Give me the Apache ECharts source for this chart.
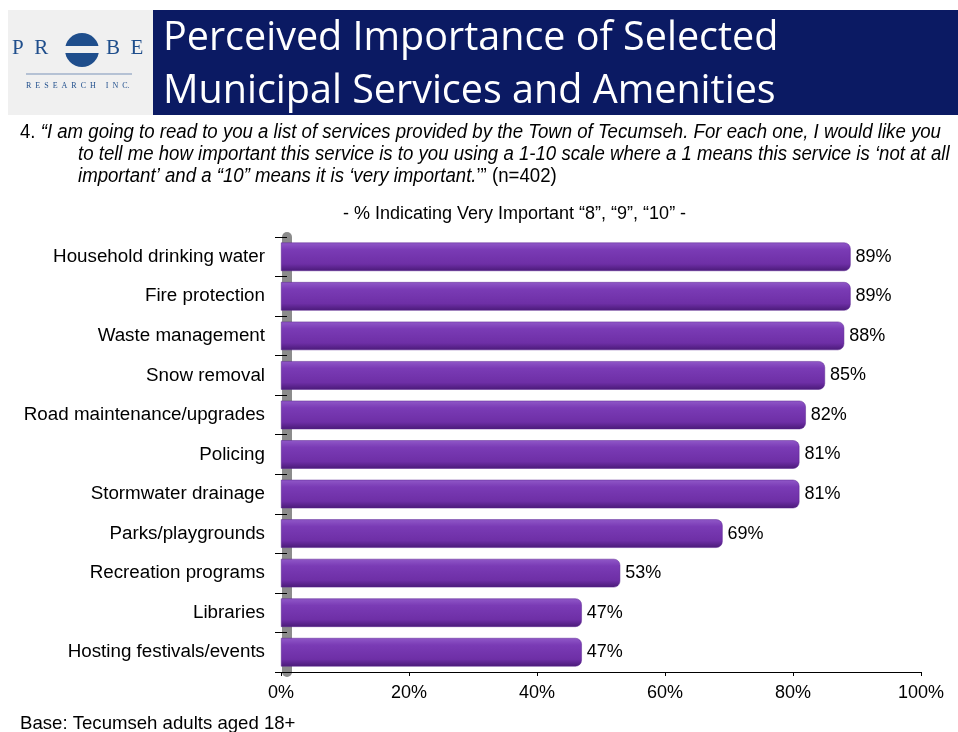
<!DOCTYPE html>
<html><head><meta charset="utf-8">
<script src="https://cdn.jsdelivr.net/npm/echarts@6/dist/echarts.min.js"></script>
<style>html,body{margin:0;padding:0;background:#fff}#c{width:958px;height:732px}</style>
</head><body><div id="c"></div>
<script>
const categories = ["Household drinking water","Fire protection","Waste management","Snow removal","Road maintenance/upgrades","Policing","Stormwater drainage","Parks/playgrounds","Recreation programs","Libraries","Hosting festivals/events"];
const values = [89,89,88,85,82,81,81,69,53,47,47];
const xTicks = [0,20,40,60,80,100];

const chart = echarts.init(document.getElementById('c'), null, {renderer:'canvas'});
const F = 'Liberation Sans, Arial, sans-serif';
const QF = '"Liberation Sans", Arial, sans-serif';
chart.setOption({
  animation:false,
  backgroundColor:'#fff',
  grid:{left:281,right:37,top:237,bottom:60,containLabel:false},
  xAxis:{type:'value',min:0,max:100,interval:20,
    axisLine:{show:true,lineStyle:{color:'#000',width:1}},
    axisTick:{show:true,length:4,lineStyle:{color:'#000'}},
    splitLine:{show:false},
    axisLabel:{formatter:v=>v+'%',color:'#000',fontFamily:F,fontSize:18,margin:12}},
  yAxis:{type:'category',data:categories,inverse:true,offset:-6,
    axisLine:{show:true,lineStyle:{color:'#8c8c8c',width:10}},
    axisTick:{show:true,length:12,lineStyle:{color:'#000'}},
    axisLabel:{color:'#000',fontFamily:F,fontSize:18.8,margin:22}},
  graphic:[
    {type:'rect',shape:{x:8,y:10,width:145,height:105},style:{fill:'#f0f0f0'}},
    {type:'rect',shape:{x:153,y:10,width:805,height:105},style:{fill:'#0b1a63'}},
    {type:'text',left:163,top:12,style:{text:'Perceived Importance of Selected\nMunicipal Services and Amenities',fill:'#fff',font:'39.5px "Open Sans", sans-serif',lineHeight:53}},
    {type:'text',left:12,top:38,style:{text:'P  R',fill:'#1f4e8c',font:'21px "Liberation Serif", serif'}},
    {type:'text',left:106,top:38,style:{text:'B  E',fill:'#1f4e8c',font:'21px "Liberation Serif", serif'}},
    {type:'circle',shape:{cx:82,cy:50,r:17},style:{fill:'#1f4e8c'}},
    {type:'rect',shape:{x:64,y:46,width:36,height:7},style:{fill:'#f0f0f0'}},
    {type:'line',shape:{x1:26,y1:74,x2:132,y2:74},style:{stroke:'#7a93b8',lineWidth:1}},
    {type:'text',left:26,top:82,style:{text:'R  E  S  E  A  R  C  H     I  N  C.',fill:'#1f4e8c',font:'8px "Liberation Serif", serif'}},
    {type:'text',left:20,top:123,scaleX:0.955,style:{rich:{
      n:{font:'19.5px '+QF,fill:'#000'},
      i:{font:'italic 19.5px '+QF,fill:'#000'}},
      text:'{n|4. }{i|\u201cI am going to read to you a list of services provided by the Town of Tecumseh. For each one, I would like you}'}},
    {type:'text',left:78,top:145,scaleX:0.955,style:{text:'to tell me how important this service is to you using a 1-10 scale where a 1 means this service is \u2018not at all',font:'italic 19.5px '+QF,fill:'#000'}},
    {type:'text',left:78,top:167,scaleX:0.955,style:{rich:{
      n:{font:'19.5px '+QF,fill:'#000'},
      i:{font:'italic 19.5px '+QF,fill:'#000'}},
      text:'{i|important\u2019 and a \u201c10\u201d means it is \u2018very important.}{n|\u2019\u201d (n=402)}'}},
    {type:'text',left:343,top:205,style:{text:'- % Indicating Very Important \u201c8\u201d, \u201c9\u201d, \u201c10\u201d -',font:'18px "Liberation Sans", Arial, sans-serif',fill:'#000'}},
    {type:'text',left:20,top:714,style:{text:'Base: Tecumseh adults aged 18+',font:'18.6px "Liberation Sans", Arial, sans-serif',fill:'#000'}}
  ],
  series:[{type:'bar',data:values,barCategoryGap:'28%',
    itemStyle:{borderRadius:[0,6,6,0],
      color:new echarts.graphic.LinearGradient(0,0,0,1,[
        {offset:0,color:'#9058c8'},{offset:0.25,color:'#7a3bb5'},{offset:0.75,color:'#6e2fa6'},{offset:1,color:'#4a1a78'}]),
      borderColor:'#5a2590',borderWidth:0.5},
    label:{show:true,position:'right',distance:5,formatter:p=>p.value+'%',color:'#000',fontFamily:F,fontSize:18}}]
});
</script></body></html>
